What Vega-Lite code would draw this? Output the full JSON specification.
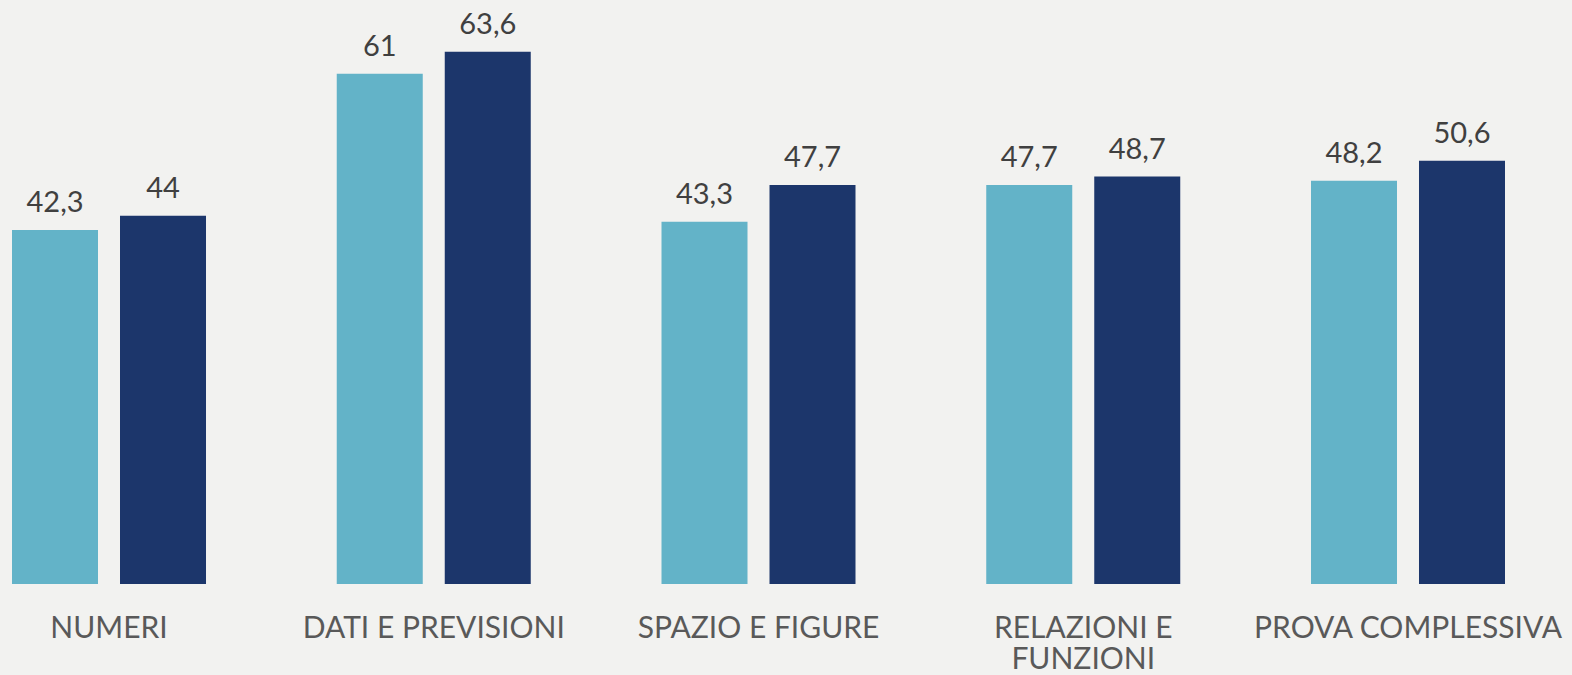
{
  "$schema": "https://vega.github.io/schema/vega-lite/v6.json",
  "width": 1493,
  "height": 584,
  "autosize": {"type": "none"},
  "padding": {"left": 12, "right": 67, "top": 0, "bottom": 91},
  "background": "#f2f2f0",
  "config": {
    "view": {"stroke": null},
    "locale": {"number": {"decimal": ",", "thousands": ".", "grouping": [3], "currency": ["", " €"]}},
    "font": "Lato"
  },
  "data": {
    "values": [
      {"categoria": "NUMERI", "serie": "A", "valore": 42.3},
      {"categoria": "NUMERI", "serie": "B", "valore": 44},
      {"categoria": "DATI E PREVISIONI", "serie": "A", "valore": 61},
      {"categoria": "DATI E PREVISIONI", "serie": "B", "valore": 63.6},
      {"categoria": "SPAZIO E FIGURE", "serie": "A", "valore": 43.3},
      {"categoria": "SPAZIO E FIGURE", "serie": "B", "valore": 47.7},
      {"categoria": "RELAZIONI E FUNZIONI", "serie": "A", "valore": 47.7},
      {"categoria": "RELAZIONI E FUNZIONI", "serie": "B", "valore": 48.7},
      {"categoria": "PROVA COMPLESSIVA", "serie": "A", "valore": 48.2},
      {"categoria": "PROVA COMPLESSIVA", "serie": "B", "valore": 50.6}
    ]
  },
  "encoding": {
    "x": {
      "field": "categoria",
      "type": "nominal",
      "sort": null,
      "scale": {"paddingInner": 0.4026, "paddingOuter": 0},
      "axis": {
        "title": null,
        "domain": false,
        "ticks": false,
        "labelAngle": 0,
        "labelFont": "Lato",
        "labelFontSize": 30,
        "labelColor": "#595959",
        "labelPadding": 29,
        "labelBaseline": "top",
        "labelLineHeight": 31,
        "labelLimit": 0,
        "labelOverlap": false,
        "labelExpr": "datum.value == 'RELAZIONI E FUNZIONI' ? ['RELAZIONI E', 'FUNZIONI'] : datum.value"
      }
    },
    "xOffset": {
      "field": "serie",
      "type": "nominal",
      "scale": {"paddingInner": 0.2037, "paddingOuter": 0}
    },
    "y": {
      "field": "valore",
      "type": "quantitative",
      "scale": {"domain": [0, 69.8], "nice": false, "zero": true},
      "axis": null
    }
  },
  "layer": [
    {
      "mark": {"type": "bar"},
      "encoding": {
        "color": {
          "field": "serie",
          "type": "nominal",
          "scale": {"domain": ["A", "B"], "range": ["#63b3c8", "#1c366b"]},
          "legend": null
        }
      }
    },
    {
      "mark": {"type": "text", "baseline": "alphabetic", "dy": -18, "fontSize": 29, "font": "Lato", "color": "#404040"},
      "encoding": {
        "text": {"field": "valore", "type": "quantitative", "format": ".1~f"}
      }
    }
  ]
}
